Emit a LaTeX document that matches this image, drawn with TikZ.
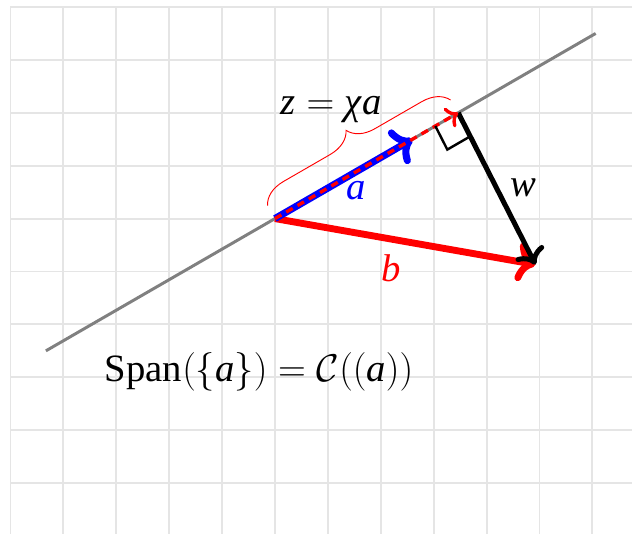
\documentclass[tikz,border=0pt]{standalone}
\usepackage{fontspec}
\setmainfont{Liberation Serif}[NFSSFamily=libser]
\DeclareSymbolFont{letters}{TU}{libser}{m}{it}
\newcommand{\mychi}{\mbox{\itshape χ}}
\usetikzlibrary{decorations.pathreplacing,angles,calc,arrows.meta}
\begin{document}
\begin{tikzpicture}[x=1cm,y=1cm,
  lbl/.style={font=\fontsize{20.8}{25}\selectfont, inner sep=0pt},
  gridline/.style={draw=gray!20, line width=1pt},
  spanline/.style={draw=gray, line width=1.6pt},
  vecb/.style={draw=red, line width=3.7pt, -{To[length=10pt,width=21pt]}},
  vecw/.style={draw=black, line width=2.7pt, -{To[length=8pt,width=17pt]}},
  veca/.style={draw=blue, line width=3.8pt, -{To[length=10pt,width=21pt]}},
  vecz/.style={draw=red, line width=1.8pt, dash pattern=on 4pt off 3pt, -{To[length=6pt,width=12pt]}},
  bracez/.style={draw=red, line width=0.5pt, decorate, decoration={brace, amplitude=14pt, raise=8pt}}]
\useasboundingbox (-5.198,-5.962) rectangle (6.749,4.132);
\clip (-5.198,-5.962) rectangle (6.749,4.132);
\draw[gridline] (-5,-7) grid (8,4);
\coordinate (O) at (0,0);
\coordinate (L1) at (210:5);
\coordinate (L2) at (30:7);
\coordinate (A) at (30:3);
\coordinate (Z) at (30:4);
\coordinate (B) at (-10:5);
\draw[spanline] (L1) -- (L2);
\draw[vecb] (O) -- (B);
\draw[vecw] (Z) -- (B);
\draw[veca] (O) -- (A);
\draw[vecz] (O) -- (Z);
\pic[draw, line width=1.3pt, angle radius=0.5cm] {right angle=O--Z--B};
\draw[bracez] (O) -- (Z);
\node[lbl, text=blue] (la) at (1.53,0.52) {$a$};
\node[lbl, text=red] (lb) at (2.19,-0.93) {$b$};
\node[lbl] (lw) at (4.69,0.58) {$w$};
\node[lbl, anchor=base] (lz) at (1.06,1.96) {$z=\mychi a$};
\node[lbl, anchor=base] (ls) at (-0.30,-3.08) {$\mathrm{Span}(\{a\}) = \mathcal{C}((a))$};
\end{tikzpicture}
\end{document}
